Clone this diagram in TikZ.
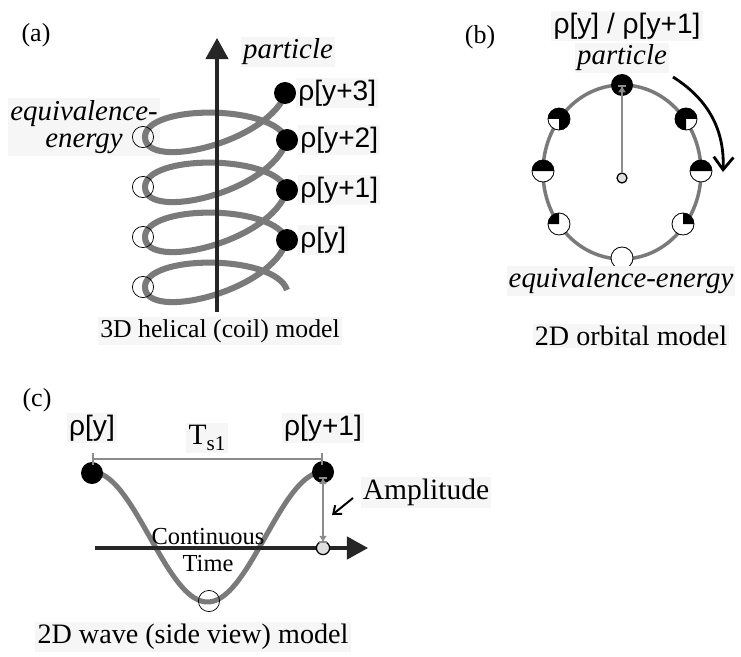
\documentclass[tikz,border=0pt]{standalone}
\usepackage{fontspec}
\setmainfont{Liberation Serif}
\newfontfamily\rhofont{Liberation Sans}
\usepackage{tikz}
\usetikzlibrary{arrows.meta,positioning}

\definecolor{coilgray}{RGB}{122,122,122}
\definecolor{linegray}{RGB}{140,140,140}
\definecolor{boxgray}{RGB}{246,246,246}

% black sector of a half-filled particle: node, start angle, end angle
\newcommand{\piesector}[3]{\fill (#1.center) -- (#1.#2) arc[start angle=#2, end angle=#3, radius=0.275cm] -- cycle;}

\begin{document}
\begin{tikzpicture}[
    x=0.025cm, y=0.025cm,
    particle/.style={circle, fill=black, inner sep=0pt, outer sep=0pt, minimum size=0.55cm},
    pie/.style={circle, draw, line width=0.6pt, fill=white, inner sep=0pt, outer sep=0pt, minimum size=0.55cm},
    eqring/.style={circle, draw, line width=0.5pt, inner sep=0pt, minimum size=0.53cm},
    hub/.style={circle, draw, line width=0.9pt, fill=gray!25, inner sep=0pt, minimum size=#1},
    hub/.default=0.25cm,
    coil/.style={draw=coilgray, line width=4.3pt},
    orbit/.style={draw=coilgray, line width=2.5pt},
    wave/.style={draw=coilgray, line width=3.6pt},
    axis/.style={line width=2.2pt, draw=black!85, -{Triangle[length=15pt,width=16pt]}},
    radial/.style={draw=linegray, line width=1.2pt, -{Triangle[length=4pt,width=5pt]Bar[width=6pt]}},
    amp/.style={draw=linegray, line width=1.2pt, {Bar[width=6pt]Triangle[length=4pt,width=5pt]}-{Triangle[length=4pt,width=5pt]Bar[width=6pt]}},
    span/.style={draw=linegray, line width=1.2pt, {Bar[width=8pt]}-{Bar[width=8pt]}},
    pointer/.style={line width=1.4pt, -{Straight Barb[length=5pt,width=8pt]}},
    turn/.style={line width=2pt, -{Straight Barb[length=9pt,width=14pt]}},
    tag/.style={fill=boxgray, inner sep=1.5pt},
    rho/.style={tag, font=\rhofont\fontsize{20}{24}\selectfont},
    ital/.style={tag, font=\itshape\fontsize{20.5}{24}\selectfont},
    caption/.style={tag, font=\fontsize{#1}{24}\selectfont},
    caption/.default=20,
    panel/.style={font=\fontsize{18.5}{22}\selectfont}
]
\useasboundingbox (0,0) rectangle (741,-656);

% (a) helical model
\node[panel] (pa) at (36,-35) {(a)};
\node[ital, align=center, font=\itshape\fontsize{20.5}{19}\selectfont] (eqa) at (84,-127) {equivalence-\\energy};
\node[ital] (parta) at (288,-52) {particle};
\foreach \yl in {137,187,237,287} {
  \draw[coil] (287,-\yl+47) .. controls (272,-\yl-5) and (145,-\yl-35) .. (145,-\yl)
              .. controls (145,-\yl+33) and (275,-\yl+33) .. (287,-\yl-3);
}
\foreach \yl [count=\i from 0] in {137,187,237,287} { \node[eqring] (e\i) at (143,-\yl) {}; }
\coordinate (ax0) at (217,-312);
\coordinate (ax1) at (217,-38);
\draw[axis] (ax0) -- (ax1);
\node[particle] (p3) at (285,-93) {};
\node[particle] (p2) at (287,-140) {};
\node[particle] (p1) at (287,-190) {};
\node[particle] (p0) at (287,-240) {};
\node[rho, right=0pt of p3] (p3lab) {ρ[y+3]};
\node[rho, right=0pt of p2] (p2lab) {ρ[y+2]};
\node[rho, right=0pt of p1] (p1lab) {ρ[y+1]};
\node[rho, right=0pt of p0] (p0lab) {ρ[y]};
\node[caption=18.3] (capa) at (220,-331) {3D helical (coil) model};

% (b) orbital model
\node[panel] (pb) at (480,-37) {(b)};
\coordinate (orb) at (622,-172);
\draw[orbit] (orb) ellipse [x radius=79, y radius=87];
\node[particle] (q0) at (622,-85) {};
\node[pie] (q1) at (686,-119) {}; \piesector{q1}{0}{270}
\node[pie] (q2) at (701,-171) {}; \piesector{q2}{0}{180}
\node[pie] (q3) at (683,-224) {}; \piesector{q3}{0}{90}
\node[pie] (q4) at (622,-258) {};
\node[pie] (q5) at (559,-224) {}; \piesector{q5}{90}{180}
\node[pie] (q6) at (543,-171) {}; \piesector{q6}{0}{180}
\node[pie] (q7) at (559,-119) {}; \piesector{q7}{270}{540}
\node[hub] (ctr) at (622,-178) {};
\draw[radial] (ctr) -- (q0.center);
\coordinate (turn0) at (673,-77);
\coordinate (turn1) at (723,-172);
\draw[turn] (turn0) to[bend left=30] (turn1);
\node[rho] (rhob) at (627,-26) {ρ[y] / ρ[y+1]};
\node[ital] (partb) at (622,-58) {particle};
\node[ital] (eqb) at (621,-281) {equivalence-energy};
\node[caption] (capb) at (631,-336) {2D orbital model};

% (c) wave model
\node[panel] (pc) at (37,-400) {(c)};
\coordinate (t0) at (95,-548);
\coordinate (t1) at (368,-548);
\draw[wave] plot[domain=0:1, samples=80] ({92+231*\x}, {-537+65*cos(360*\x)});
\draw[axis] (t0) -- (t1);
\node[particle] (w0) at (92,-473) {};
\node[particle] (w1) at (323,-472) {};
\node[eqring] (wmin) at (209,-601) {};
\node[hub=0.33cm] (tnode) at (323,-548) {};
\draw[amp, shorten <=3.5pt, shorten >=3.5pt] (w1.center) -- (tnode.center);
\coordinate (s0) at (92,-459);
\coordinate (s1) at (323,-459);
\draw[span] (s0) -- (s1);
\node[rho] (w0lab) at (92,-428) {ρ[y]};
\node[rho] (w1lab) at (323,-428) {ρ[y+1]};
\node[tag, font=\fontsize{21}{24}\selectfont] (tslab) at (207,-438) {T\raisebox{-0.45ex}{\fontsize{15}{16}\selectfont s1}};
\node[font=\fontsize{17.4}{19.5}\selectfont, align=center] (ctime) at (208,-550) {Continuous\\Time};
\node[tag, font=\fontsize{21}{24}\selectfont] (amplab) at (426,-492) {Amplitude};
\coordinate (ptr0) at (353,-498);
\coordinate (ptr1) at (332,-515);
\draw[pointer] (ptr0) -- (ptr1);
\node[caption] (capc) at (193,-637) {2D wave (side view) model};

\end{tikzpicture}
\end{document}
